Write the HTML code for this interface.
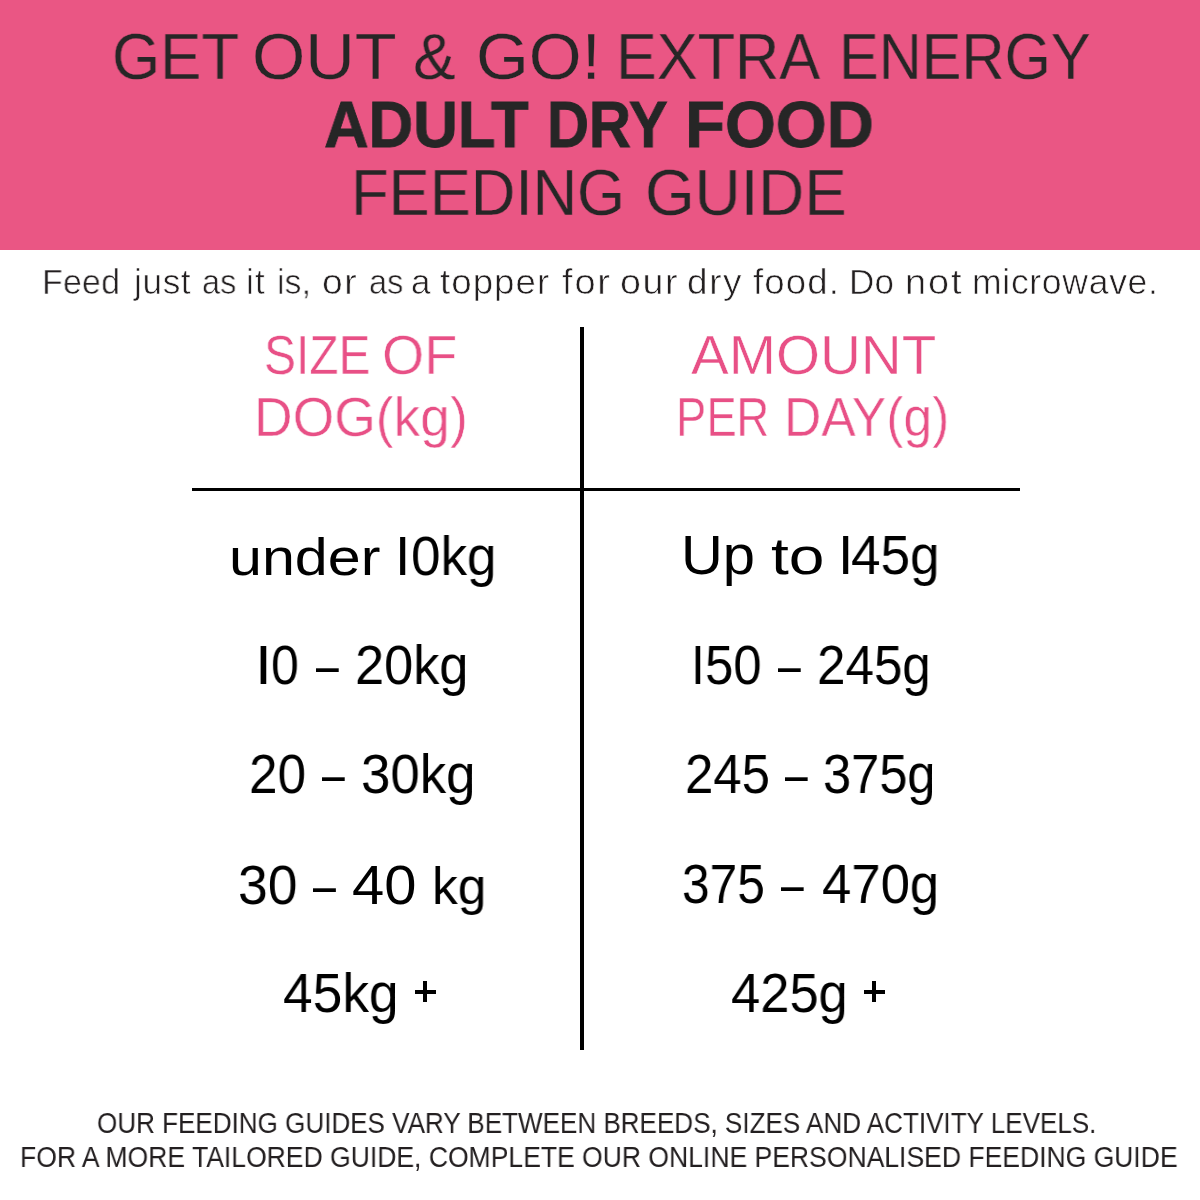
<!DOCTYPE html>
<html><head><meta charset="utf-8"><style>
html,body{margin:0;padding:0;}
body{width:1200px;height:1200px;position:relative;overflow:hidden;background:#fff;font-family:"Liberation Sans",sans-serif;}
.banner{position:absolute;left:0;top:0;width:1200px;height:250px;background:#EA5684;}
.pl{position:absolute;background:#000;}
.t{position:absolute;white-space:nowrap;transform-origin:0 0;will-change:transform;}
.hl{position:absolute;left:192px;top:488px;width:828px;height:3px;background:#000;}
.vl{position:absolute;left:580px;top:327px;width:4px;height:723px;background:#000;}

</style></head><body>
<div class="banner"></div>
<div class="hl"></div>
<div class="vl"></div>
<div class="pl" style="left:414.5px;top:990px;width:21.2px;height:3.8px"></div>
<div class="pl" style="left:423.2px;top:981.2px;width:3.8px;height:21.3px"></div>
<div class="pl" style="left:863.7px;top:990px;width:21px;height:3.8px"></div>
<div class="pl" style="left:872.2px;top:981.3px;width:3.8px;height:21.2px"></div>
<div class="t" style="left:112.0px;top:23.7px;font-size:65.6px;line-height:65.6px;color:#262626;-webkit-text-stroke:0.3px #EA5684;transform:scaleX(0.9423)">GET</div>
<div class="t" style="left:252.0px;top:23.7px;font-size:65.6px;line-height:65.6px;color:#262626;-webkit-text-stroke:0.3px #EA5684;transform:scaleX(1.0448)">OUT</div>
<div class="t" style="left:413.0px;top:23.7px;font-size:65.6px;line-height:65.6px;color:#262626;-webkit-text-stroke:0.3px #EA5684;transform:scaleX(0.9756)">&amp;</div>
<div class="t" style="left:475.75px;top:23.7px;font-size:65.6px;line-height:65.6px;color:#262626;-webkit-text-stroke:0.3px #EA5684;transform:scaleX(1.036)">GO!</div>
<div class="t" style="left:616.25px;top:23.7px;font-size:65.6px;line-height:65.6px;color:#262626;-webkit-text-stroke:0.3px #EA5684;transform:scaleX(0.9331)">EXTRA</div>
<div class="t" style="left:838.75px;top:23.7px;font-size:65.6px;line-height:65.6px;color:#262626;-webkit-text-stroke:0.3px #EA5684;transform:scaleX(0.9083)">ENERGY</div>
<div class="t" style="left:324.25px;top:91.7px;font-size:65.6px;line-height:65.6px;color:#262626;font-weight:700;-webkit-text-stroke:0.8px #262626;transform:scaleX(0.9419)">ADULT</div>
<div class="t" style="left:547.25px;top:91.7px;font-size:65.6px;line-height:65.6px;color:#262626;font-weight:700;-webkit-text-stroke:0.8px #262626;transform:scaleX(0.8874)">DRY</div>
<div class="t" style="left:684.75px;top:91.7px;font-size:65.6px;line-height:65.6px;color:#262626;font-weight:700;-webkit-text-stroke:0.8px #262626;transform:scaleX(0.9973)">FOOD</div>
<div class="t" style="left:351.25px;top:159.7px;font-size:65.6px;line-height:65.6px;color:#262626;-webkit-text-stroke:0.3px #EA5684;transform:scaleX(0.9397)">FEEDING</div>
<div class="t" style="left:644.5px;top:159.7px;font-size:65.6px;line-height:65.6px;color:#262626;-webkit-text-stroke:0.3px #EA5684;transform:scaleX(0.9715)">GUIDE</div>
<div class="t" style="left:42.0px;top:264.2px;font-size:35px;line-height:35px;color:#231F20;-webkit-text-stroke:0.6px #fff;letter-spacing:0.12px;transform:scaleX(0.9732)">Feed</div>
<div class="t" style="left:133.5px;top:264.2px;font-size:35px;line-height:35px;color:#231F20;-webkit-text-stroke:0.6px #fff;letter-spacing:0.6px;transform:scaleX(1.0066)">just</div>
<div class="t" style="left:201.5px;top:264.2px;font-size:35px;line-height:35px;color:#231F20;-webkit-text-stroke:0.6px #fff;letter-spacing:-0.046px;transform:scaleX(0.9284)">as</div>
<div class="t" style="left:245.7px;top:264.2px;font-size:35px;line-height:35px;color:#231F20;-webkit-text-stroke:0.6px #fff;letter-spacing:0.6px">i</div>
<div class="t" style="left:254.5px;top:264.2px;font-size:35px;line-height:35px;color:#231F20;-webkit-text-stroke:0.6px #fff;letter-spacing:0.6px">t</div>
<div class="t" style="left:277.2px;top:264.2px;font-size:35px;line-height:35px;color:#231F20;-webkit-text-stroke:0.6px #fff;letter-spacing:0.181px;transform:scaleX(0.9537)">is,</div>
<div class="t" style="left:322.2px;top:264.2px;font-size:35px;line-height:35px;color:#231F20;-webkit-text-stroke:0.6px #fff;letter-spacing:1.542px;transform:scaleX(1.0619)">or</div>
<div class="t" style="left:369.0px;top:264.2px;font-size:35px;line-height:35px;color:#231F20;-webkit-text-stroke:0.6px #fff;letter-spacing:-0.046px;transform:scaleX(0.9284)">as</div>
<div class="t" style="left:411.3px;top:264.2px;font-size:35px;line-height:35px;color:#231F20;-webkit-text-stroke:0.6px #fff;letter-spacing:0.6px">a</div>
<div class="t" style="left:439.8px;top:264.2px;font-size:35px;line-height:35px;color:#231F20;-webkit-text-stroke:0.6px #fff;letter-spacing:0.982px;transform:scaleX(1.0479)">topper</div>
<div class="t" style="left:561.5px;top:264.2px;font-size:35px;line-height:35px;color:#231F20;-webkit-text-stroke:0.6px #fff;letter-spacing:1.708px;transform:scaleX(1.0828)">for</div>
<div class="t" style="left:619.7px;top:264.2px;font-size:35px;line-height:35px;color:#231F20;-webkit-text-stroke:0.6px #fff;letter-spacing:1.531px;transform:scaleX(1.0741)">our</div>
<div class="t" style="left:687.2px;top:264.2px;font-size:35px;line-height:35px;color:#231F20;-webkit-text-stroke:0.6px #fff;letter-spacing:1.55px;transform:scaleX(1.0531)">dry</div>
<div class="t" style="left:753.2px;top:264.2px;font-size:35px;line-height:35px;color:#231F20;-webkit-text-stroke:0.6px #fff;letter-spacing:1.127px;transform:scaleX(1.0445)">food.</div>
<div class="t" style="left:848.7px;top:264.2px;font-size:35px;line-height:35px;color:#231F20;-webkit-text-stroke:0.6px #fff;letter-spacing:0.199px;transform:scaleX(0.9963)">Do</div>
<div class="t" style="left:904.5px;top:264.2px;font-size:35px;line-height:35px;color:#231F20;-webkit-text-stroke:0.6px #fff;letter-spacing:1.802px;transform:scaleX(1.0817)">not</div>
<div class="t" style="left:972.2px;top:264.2px;font-size:35px;line-height:35px;color:#231F20;-webkit-text-stroke:0.6px #fff;letter-spacing:0.666px;transform:scaleX(1.0161)">microwave.</div>
<div class="t" style="left:264.0px;top:328.0px;font-size:55px;line-height:55px;color:#E85086;-webkit-text-stroke:0.5px #fff;transform:scaleX(0.8718)">SIZE</div>
<div class="t" style="left:382.0px;top:328.0px;font-size:55px;line-height:55px;color:#E85086;-webkit-text-stroke:0.5px #fff;transform:scaleX(0.9859)">OF</div>
<div class="t" style="left:254.0px;top:389.6px;font-size:55px;line-height:55px;color:#E85086;-webkit-text-stroke:0.5px #fff;transform:scaleX(0.9718)">DOG(kg)</div>
<div class="t" style="left:691.0px;top:327.75px;font-size:55px;line-height:55px;color:#E85086;-webkit-text-stroke:0.5px #fff;transform:scaleX(1.0295)">AMOUNT</div>
<div class="t" style="left:676.0px;top:389.5px;font-size:55px;line-height:55px;color:#E85086;-webkit-text-stroke:0.5px #fff;transform:scaleX(0.8255)">PER</div>
<div class="t" style="left:783.5px;top:389.5px;font-size:55px;line-height:55px;color:#E85086;-webkit-text-stroke:0.5px #fff;transform:scaleX(0.9379)">DAY(g)</div>
<div class="t" style="left:229.1px;top:528.5px;font-size:55.2px;line-height:55.2px;color:#000;top:530.5px;font-size:52px;line-height:52px;transform:scaleX(1.1388)">under</div>
<div class="t" style="left:395.0px;top:528.5px;font-size:55.2px;line-height:55.2px;color:#000">I</div>
<div class="t" style="left:410.5px;top:528.5px;font-size:55.2px;line-height:55.2px;color:#000;transform:scaleX(0.9608)">0kg</div>
<div class="t" style="left:255.0px;top:637.75px;font-size:55.2px;line-height:55.2px;color:#000;transform:scaleX(1.1)">I</div>
<div class="t" style="left:271.0px;top:637.75px;font-size:55.2px;line-height:55.2px;color:#000;transform:scaleX(0.9074)">0</div>
<div class="t" style="left:316.0px;top:637.75px;font-size:55.2px;line-height:55.2px;color:#000;transform:scaleX(0.7419)">–</div>
<div class="t" style="left:355.0px;top:637.75px;font-size:55.2px;line-height:55.2px;color:#000;transform:scaleX(0.9469)">20kg</div>
<div class="t" style="left:248.5px;top:747.0px;font-size:55.2px;line-height:55.2px;color:#000;transform:scaleX(0.9286)">20</div>
<div class="t" style="left:322.0px;top:747.0px;font-size:55.2px;line-height:55.2px;color:#000;transform:scaleX(0.7419)">–</div>
<div class="t" style="left:361.0px;top:747.0px;font-size:55.2px;line-height:55.2px;color:#000;transform:scaleX(0.9561)">30kg</div>
<div class="t" style="left:237.9px;top:857.5px;font-size:55.2px;line-height:55.2px;color:#000;transform:scaleX(0.9684)">30</div>
<div class="t" style="left:313.0px;top:857.5px;font-size:55.2px;line-height:55.2px;color:#000;transform:scaleX(0.7516)">–</div>
<div class="t" style="left:352.1px;top:857.5px;font-size:55.2px;line-height:55.2px;color:#000;transform:scaleX(1.05)">40</div>
<div class="t" style="left:431.6px;top:857.5px;font-size:55.2px;line-height:55.2px;color:#000;top:859.5px;font-size:52px;line-height:52px;transform:scaleX(0.9898)">kg</div>
<div class="t" style="left:283.25px;top:965.75px;font-size:55.2px;line-height:55.2px;color:#000;transform:scaleX(0.9652)">45kg</div>
<div class="t" style="left:681.4px;top:528.1px;font-size:55.2px;line-height:55.2px;color:#000;transform:scaleX(1.05)">Up</div>
<div class="t" style="left:770.5px;top:528.1px;font-size:55.2px;line-height:55.2px;color:#000;top:530.1px;font-size:52px;line-height:52px;transform:scaleX(1.2325)">to</div>
<div class="t" style="left:837.5px;top:528.1px;font-size:55.2px;line-height:55.2px;color:#000;transform:scaleX(0.98)">I</div>
<div class="t" style="left:851.25px;top:528.1px;font-size:55.2px;line-height:55.2px;color:#000;transform:scaleX(0.9608)">45g</div>
<div class="t" style="left:690.5px;top:637.7px;font-size:55.2px;line-height:55.2px;color:#000;transform:scaleX(0.9)">I</div>
<div class="t" style="left:705.0px;top:637.7px;font-size:55.2px;line-height:55.2px;color:#000;transform:scaleX(0.9211)">50</div>
<div class="t" style="left:778.0px;top:637.7px;font-size:55.2px;line-height:55.2px;color:#000;transform:scaleX(0.7419)">–</div>
<div class="t" style="left:816.5px;top:637.7px;font-size:55.2px;line-height:55.2px;color:#000;transform:scaleX(0.9267)">245g</div>
<div class="t" style="left:684.6px;top:747.2px;font-size:55.2px;line-height:55.2px;color:#000;transform:scaleX(0.9213)">245</div>
<div class="t" style="left:785.1px;top:747.2px;font-size:55.2px;line-height:55.2px;color:#000;transform:scaleX(0.7323)">–</div>
<div class="t" style="left:823.2px;top:747.2px;font-size:55.2px;line-height:55.2px;color:#000;transform:scaleX(0.9162)">375g</div>
<div class="t" style="left:682.3px;top:857.2px;font-size:55.2px;line-height:55.2px;color:#000;transform:scaleX(0.8989)">375</div>
<div class="t" style="left:781.3px;top:857.2px;font-size:55.2px;line-height:55.2px;color:#000;transform:scaleX(0.7323)">–</div>
<div class="t" style="left:821.5px;top:857.2px;font-size:55.2px;line-height:55.2px;color:#000;transform:scaleX(0.9542)">470g</div>
<div class="t" style="left:731.3px;top:965.75px;font-size:55.2px;line-height:55.2px;color:#000;transform:scaleX(0.9508)">425g</div>
<div class="t" style="left:96.5px;top:1108.3px;font-size:29.8px;line-height:29.8px;color:#231F20;transform:scaleX(0.8739)">OUR FEEDING GUIDES VARY BETWEEN BREEDS, SIZES AND ACTIVITY LEVELS.</div>
<div class="t" style="left:20.0px;top:1141.8px;font-size:29.8px;line-height:29.8px;color:#231F20;transform:scaleX(0.8903)">FOR A MORE TAILORED GUIDE, COMPLETE OUR ONLINE PERSONALISED FEEDING GUIDE</div>
</body></html>
